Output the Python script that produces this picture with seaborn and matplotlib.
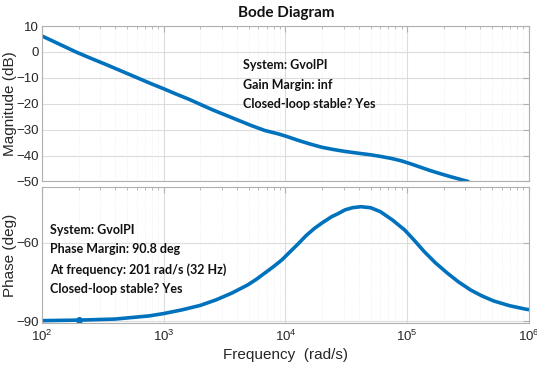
#import libraries
import numpy as np
import pandas as pd
import matplotlib
matplotlib.use("Agg")
import matplotlib.pyplot as plt
import seaborn as sns

#data (log10 of frequency in rad/s)
mag_logw = [2.0, 2.14, 2.28, 2.4, 2.53, 2.66, 2.8, 2.9, 3.0, 3.1, 3.21, 3.3, 3.4, 3.51, 3.62,
            3.72, 3.83, 3.94, 4.01, 4.11, 4.2, 4.3, 4.4, 4.49, 4.6, 4.7, 4.79, 4.87, 4.95,
            5.03, 5.11, 5.19, 5.28, 5.36, 5.43, 5.5]
mag_db = [6.2, 3.1, 0.0, -2.4, -4.9, -7.5, -10.3, -12.3, -14.2, -16.2, -18.3, -20.2, -22.3, -24.4, -26.5,
          -28.4, -30.3, -31.6, -32.6, -34.2, -35.5, -36.8, -37.7, -38.4, -39.1, -39.7, -40.4, -41.1, -42.0,
          -43.2, -44.5, -45.8, -47.1, -48.2, -49.1, -50.0]

phase_logw = [2.0, 2.3, 2.6, 2.88, 3.0, 3.15, 3.3, 3.43, 3.56, 3.69, 3.76, 3.83, 3.9, 3.97, 4.04,
              4.11, 4.17, 4.24, 4.31, 4.38, 4.43, 4.49, 4.55, 4.62, 4.7, 4.78, 4.88, 4.98, 5.06,
              5.14, 5.23, 5.33, 5.42, 5.52, 5.61, 5.71, 5.84, 5.97, 6.0]
phase_deg = [-89.7, -89.5, -89.1, -87.9, -87.0, -85.6, -83.9, -81.8, -79.2, -76.1, -74.0, -71.6, -69.2, -66.6, -63.4,
             -60.2, -57.3, -54.5, -52.2, -50.1, -49.0, -47.5, -46.7, -46.3, -46.7, -48.2, -51.4, -55.2, -59.2,
             -63.4, -67.6, -71.6, -74.9, -78.0, -80.2, -82.2, -84.0, -85.3, -85.5]

pm_freq = 201
pm_phase = -89.5

mag_df = pd.DataFrame({'w': np.power(10.0, mag_logw), 'mag': mag_db})
ph_df = pd.DataFrame({'w': np.power(10.0, phase_logw), 'phase': phase_deg})

sns.set_style("white")
plt.rcParams['font.family'] = ['Liberation Sans', 'DejaVu Sans']
blue = '#0072BD'
txt_col = '#262626'

fig = plt.figure(figsize=(5.37, 3.70), dpi=100)
ax1 = fig.add_axes([0.078, 0.5095, 0.907, 0.420])
ax2 = fig.add_axes([0.078, 0.127, 0.907, 0.3676])

#magnitude
sns.lineplot(data=mag_df, x='w', y='mag', ax=ax1, color=blue, linewidth=2.6, sort=False)
#phase
sns.lineplot(data=ph_df, x='w', y='phase', ax=ax2, color=blue, linewidth=2.6, sort=False)
ax2.plot([pm_freq], [pm_phase], 'o', color=blue, markersize=4)

for ax in (ax1, ax2):
    ax.set_xscale('log')
    ax.set_xlim(1e2, 1e6)
    ax.grid(True, which='major', color='#dcdcdc', linewidth=0.8)
    ax.grid(True, which='minor', color='#ececec', linewidth=0.6, linestyle=':')
    ax.tick_params(which='both', direction='in', top=True, right=True,
                   colors='#b0b0b0', labelcolor=txt_col, labelsize=9.5, pad=2)
    ax.tick_params(which='major', length=4)
    ax.tick_params(which='minor', length=2)
    for s in ax.spines.values():
        s.set_color('#b0b0b0')
        s.set_linewidth(0.8)

ax1.set_ylim(-50, 10)
ax1.set_yticks([10, 0, -10, -20, -30, -40, -50])
ax1.tick_params(labelbottom=False)
ax1.set_xlabel('')
ax1.set_ylabel('Magnitude (dB)', fontsize=11, color=txt_col, labelpad=0)

ax2.set_ylim(-90.6, -38.8)
ax2.set_yticks([-60, -90])
ax2.tick_params(axis='x', pad=4)
ax2.set_xlabel('Frequency  (rad/s)', fontsize=11, color=txt_col, labelpad=3)
ax2.set_ylabel('Phase (deg)', fontsize=11, color=txt_col, labelpad=0)
ax1.yaxis.set_label_coords(-0.052, 0.5)
ax2.yaxis.set_label_coords(-0.052, 0.5)

fig.text(0.533, 0.965, 'Bode Diagram', ha='center', va='center',
         fontsize=11, fontweight='bold', family=['Lato', 'DejaVu Sans'], color='#111111')

ann = dict(fontsize=9, fontweight='bold', family=['Lato', 'DejaVu Sans'], color='#111111',
           linespacing=1.75, va='top', ha='left')
ax1.text(0.413, 0.786, 'System: GvolPI\nGain Margin: inf\nClosed-loop stable? Yes',
         transform=ax1.transAxes, **ann)
ax2.text(0.0165, 0.73, 'System: GvolPI\nPhase Margin: 90.8 deg\nAt frequency: 201 rad/s (32 Hz)\nClosed-loop stable? Yes',
         transform=ax2.transAxes, **ann)

plt.savefig('out.png', dpi=100)
